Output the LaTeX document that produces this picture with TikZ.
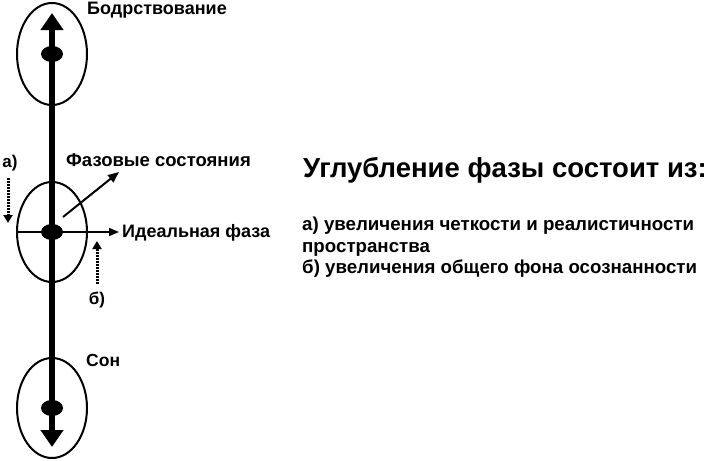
\documentclass[tikz,border=0pt]{standalone}
\usepackage{fontspec}
\setmainfont{Liberation Sans}
\usetikzlibrary{arrows.meta,shapes.geometric}
\begin{document}
\begin{tikzpicture}[x=1pt, y=-1pt, every node/.style={inner sep=0pt, font=\bfseries\fontsize{18}{21}\selectfont},
		phase/.style={line width=2pt},
		dot/.style={ellipse, fill=black, minimum width=22pt, minimum height=16pt},
		hint/.style={line width=3pt, dash pattern=on 1.6pt off 1.4pt, -{Triangle[width=9pt,length=8pt]}}]
	\useasboundingbox (0,0) rectangle (713,461);
	% Phase centres
	\coordinate (T) at (52,54);
	\coordinate (M) at (52,232);
	\coordinate (B) at (52,408);
	\coordinate (tipT) at (52,13);
	\coordinate (tipB) at (52,447);
	
	% Draw phase ellipses
	\draw[phase] (T) ellipse [x radius=35, y radius=51];
	\draw[phase] (M) ellipse [x radius=35, y radius=50];
	\draw[phase] (B) ellipse [x radius=35, y radius=50];
	
	% Main axis
	\draw[line width=6pt, {Triangle[width=22pt,length=17pt]}-{Triangle[width=22pt,length=17pt]}] (tipT) -- (tipB);
	
	% Labels
	\node[anchor=west] (wake) at (87,10) {Бодрствование};
	\node[anchor=west, font=\bfseries\fontsize{17.5}{21}\selectfont] (sleep) at (86,360) {Сон};
	\node[anchor=west, font=\bfseries\fontsize{18.5}{21}\selectfont] (states) at (66,160) {Фазовые состояния};
	\node[anchor=west] (ideal) at (122,233) {Идеальная фаза};
	\node[font=\bfseries\fontsize{17}{20}\selectfont] (la) at (10,163) {а)};
	\node[font=\bfseries\fontsize{17}{20}\selectfont] (lb) at (97,300) {б)};
	
	% Arrows of the middle phase
	\coordinate (hl) at (17,232);
	\coordinate (hr) at (119,232);
	\coordinate (ds) at (63,217);
	\coordinate (de) at (119,172);
	\draw[line width=1.5pt, -{Triangle[width=8pt,length=10pt]}] (hl) -- (hr);
	\draw[line width=2pt, -{Triangle[width=9pt,length=11pt]}] (ds) -- (de);
	
	% Dotted hints
	\coordinate (a1) at (8,178);
	\coordinate (a2) at (8,223);
	\coordinate (b1) at (97,284);
	\coordinate (b2) at (97,241);
	\draw[hint] (a1) -- (a2);
	\draw[hint] (b1) -- (b2);
	
	% Draw nodes
	\foreach \p in {T,M,B}
	\node[dot] (dot\p) at (\p) {};
	
	% Text on the right
	\node[anchor=west, font=\bfseries\fontsize{27.5}{32}\selectfont] (title) at (303,170) {Углубление фазы состоит из:};
	\node[anchor=north west, align=left, font=\bfseries\fontsize{18.7}{21.5}\selectfont] (items) at (302,217)
		{а) увеличения четкости и реалистичности\\пространства\\б) увеличения общего фона осознанности};
\end{tikzpicture}
\end{document}
